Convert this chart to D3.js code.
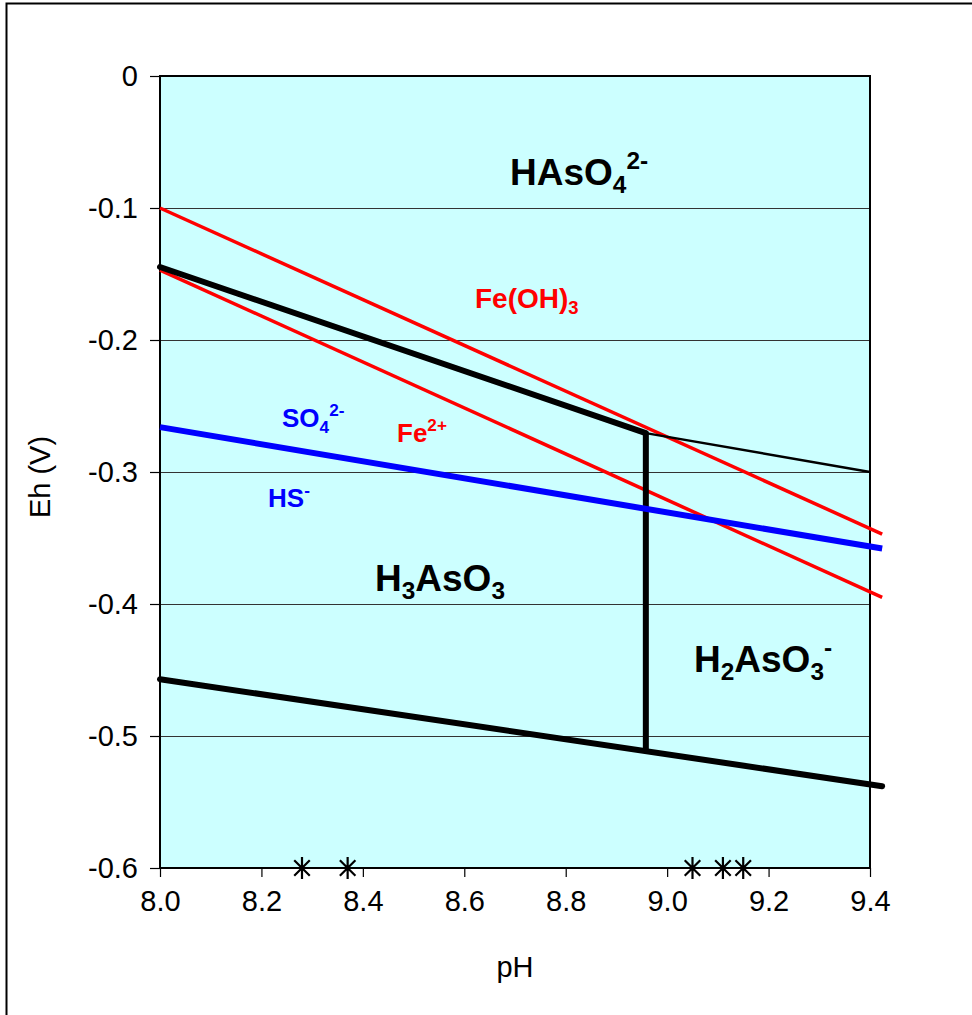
<!DOCTYPE html>
<html>
<head>
<meta charset="utf-8">
<script src="https://cdn.jsdelivr.net/npm/d3@7"></script>
<style>
  html, body { margin: 0; padding: 0; background: #fff; }
  svg { display: block; font-family: "Liberation Sans", Arial, sans-serif; }
</style>
</head>
<body>
<svg id="chart" width="972" height="1015"></svg>
<script>
// Eh–pH stability fields for arsenic, iron and sulfur (pH 8.0–9.4)
const pHTicks = [8.0, 8.2, 8.4, 8.6, 8.8, 9.0, 9.2, 9.4];
const ehTicks = [0, -0.1, -0.2, -0.3, -0.4, -0.5, -0.6];

// boundary lines as [pH, Eh] pairs
const feOH3Upper = [[8.0, -0.100], [9.424, -0.347]];
const feOH3Lower = [[8.0, -0.147], [9.424, -0.395]];
const sulfate    = [[8.0, -0.266], [9.424, -0.358]];
const hasO4Thick = [[8.0, -0.1447], [8.958, -0.2705]];
const hasO4Thin  = [[8.958, -0.2705], [9.4, -0.300]];
const h3Vertical = [[8.958, -0.2705], [8.958, -0.511]];
const waterLower = [[8.0, -0.457], [9.424, -0.538]];

// sample pH values plotted along the base of the diagram
const samplePH = [8.28, 8.37, 9.05, 9.11, 9.15];
const sampleEh = -0.6;

const svg = d3.select("#chart");
const plotLeft = 160, plotRight = 870, plotTop = 76, plotBottom = 868;

const x = d3.scaleLinear().domain([8.0, 9.4]).range([plotLeft, plotRight]);
const y = d3.scaleLinear().domain([0, -0.6]).range([plotTop, plotBottom]);

// outer chart frame
svg.append("rect").attr("x", 6.5).attr("y", 3.5).attr("width", 1000).attr("height", 1100)
  .attr("fill", "#fff").attr("stroke", "#000").attr("stroke-width", 2);

// plot background
svg.append("rect").attr("x", plotLeft).attr("y", plotTop)
  .attr("width", plotRight - plotLeft).attr("height", plotBottom - plotTop)
  .attr("fill", "#CCFFFF");

// horizontal gridlines
svg.append("g").selectAll("line").data(ehTicks.filter(d => d !== 0 && d !== -0.6)).join("line")
  .attr("x1", plotLeft).attr("x2", plotRight)
  .attr("y1", d => Math.round(y(d)) + 0.5).attr("y2", d => Math.round(y(d)) + 0.5)
  .attr("stroke", "#333").attr("stroke-width", 1);

// plot border
svg.append("rect").attr("x", plotLeft).attr("y", plotTop)
  .attr("width", plotRight - plotLeft).attr("height", plotBottom - plotTop)
  .attr("fill", "none").attr("stroke", "#000").attr("stroke-width", 2);

// axes
const tickFont = 29;
const yAxis = d3.axisLeft(y).tickValues(ehTicks).tickSize(10).tickPadding(12)
  .tickFormat(d => d === 0 ? "0" : d3.format(".1f")(d).replace("−", "-"));
const gy = svg.append("g").attr("transform", `translate(${plotLeft},0)`).call(yAxis);
gy.select(".domain").remove();
gy.selectAll(".tick line").attr("stroke", "#000").attr("stroke-width", 1.2);
gy.selectAll(".tick text").attr("font-size", tickFont).attr("fill", "#000")
  .attr("font-family", "Liberation Sans, Arial, sans-serif");

const xAxis = d3.axisBottom(x).tickValues(pHTicks).tickSize(9).tickPadding(13)
  .tickFormat(d3.format(".1f"));
const gx = svg.append("g").attr("transform", `translate(0,${plotBottom})`).call(xAxis);
gx.select(".domain").remove();
gx.selectAll(".tick line").attr("stroke", "#000").attr("stroke-width", 1.2);
gx.selectAll(".tick text").attr("font-size", tickFont).attr("fill", "#000")
  .attr("font-family", "Liberation Sans, Arial, sans-serif");

// axis titles
svg.append("text").attr("x", 515).attr("y", 977).attr("text-anchor", "middle")
  .attr("font-size", tickFont).text("pH");
svg.append("text").attr("transform", "translate(50,477) rotate(-90)")
  .attr("text-anchor", "middle").attr("font-size", tickFont).text("Eh (V)");

// boundary lines
const line = d3.line().x(d => x(d[0])).y(d => y(d[1]));
const drawLine = (data, color, width) =>
  svg.append("path").datum(data).attr("d", line)
    .attr("fill", "none").attr("stroke", color).attr("stroke-width", width)
    .attr("stroke-linecap", "butt");

drawLine(feOH3Upper, "#FF0000", 3.5);
drawLine(feOH3Lower, "#FF0000", 3.5);
drawLine(hasO4Thin, "#000", 2.4);
drawLine(hasO4Thick, "#000", 6).attr("stroke-linecap", "round");
drawLine(h3Vertical, "#000", 6);
drawLine(sulfate, "#0000FF", 6);
drawLine(waterLower, "#000", 6).attr("stroke-linecap", "round");

// sample markers (asterisks)
const r = 11;
svg.append("g").selectAll("path").data(samplePH).join("path")
  .attr("d", d => {
    const cx = x(d), cy = y(sampleEh);
    const dx = r * Math.cos(Math.PI / 4), dy = r * Math.sin(Math.PI / 4);
    return `M${cx},${cy - r}L${cx},${cy + r}` +
           `M${cx - dx},${cy - dy}L${cx + dx},${cy + dy}` +
           `M${cx - dx},${cy + dy}L${cx + dx},${cy - dy}`;
  })
  .attr("stroke", "#000").attr("stroke-width", 2.2).attr("fill", "none");

// field labels with subscripts / superscripts
function label(px, py, parts, size, color) {
  const t = svg.append("text").attr("x", px).attr("y", py)
    .attr("font-size", size).attr("font-weight", "bold").attr("fill", color);
  let shift = 0;
  parts.forEach(([txt, kind]) => {
    const ts = t.append("tspan").text(txt);
    let target = 0, fs = size;
    if (kind === "sub") { target = size * 0.22; fs = size * 0.66; }
    if (kind === "sup") { target = -size * 0.42; fs = size * 0.66; }
    ts.attr("font-size", fs).attr("dy", target - shift);
    shift = target;
  });
}

label(510, 185, [["HAsO"], ["4", "sub"], ["2-", "sup"]], 37, "#000");
label(475, 308, [["Fe(OH)"], ["3", "sub"]], 28, "#FF0000");
label(282, 427, [["SO"], ["4", "sub"], ["2-", "sup"]], 26, "#0000FF");
label(397, 442, [["Fe"], ["2+", "sup"]], 26, "#FF0000");
label(268, 507, [["HS"], ["-", "sup"]], 26, "#0000FF");
label(375, 591, [["H"], ["3", "sub"], ["AsO"], ["3", "sub"]], 37, "#000");
label(694, 672, [["H"], ["2", "sub"], ["AsO"], ["3", "sub"], ["-", "sup"]], 37, "#000");
</script>
</body>
</html>
